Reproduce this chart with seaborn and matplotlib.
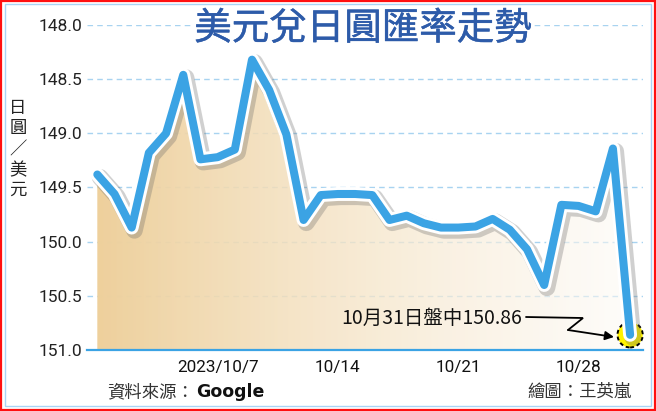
import numpy as np
import pandas as pd
import matplotlib
matplotlib.use("Agg")
import matplotlib.pyplot as plt
import matplotlib.patheffects as pe
from matplotlib.patches import Rectangle
import seaborn as sns

# ---- data ----
dates = pd.date_range("2023-09-30", "2023-10-31", freq="D")
rates = [149.38, 149.56, 149.87, 149.18, 149.00, 148.46, 149.24, 149.22,
         149.15, 148.32, 148.60, 149.01, 149.80, 149.57, 149.56, 149.56,
         149.57, 149.80, 149.76, 149.83, 149.87, 149.87, 149.86, 149.79,
         149.89, 150.07, 150.40, 149.66, 149.67, 149.72, 149.14, 150.86]
tick_dates = ["2023-10-07", "2023-10-14", "2023-10-21", "2023-10-28"]
tick_labels = ["2023/10/7", "10/14", "10/21", "10/28"]
y_ticks = [148.0, 148.5, 149.0, 149.5, 150.0, 150.5, 151.0]

title = "美元兌日圓匯率走勢"
ylabel_chars = ["日", "圓", "／", "美", "元"]
note = "10月31日盤中150.86"
source_cn = "資料來源："
source_en = "Google"
credit = "繪圖：王英嵐"

sns.set_theme(style="white")
plt.rcParams["font.family"] = ["Noto Sans CJK TC", "DejaVu Sans"]

W, H = 656, 411
fig = plt.figure(figsize=(W / 100, H / 100), dpi=100)
fig.patch.set_facecolor("white")

ax = fig.add_axes([87 / W, (H - 350) / H, (643 - 87) / W, 325 / H])
ax.set_facecolor("none")

df = pd.DataFrame({"day": (dates - dates[0]).days, "rate": rates})
xs = df["day"].to_numpy()
ys = df["rate"].to_numpy()

# gridlines
ax.set_axisbelow(True)
ax.yaxis.grid(True, color="#A8D3F0", linestyle=(0, (4, 3)), linewidth=1.0, zorder=0)
ax.xaxis.grid(False)

# gradient area fill
poly = ax.fill_between(xs, ys, 151.0, color="none", lw=0)
path = poly.get_paths()[0]
n = 256
t = np.linspace(0, 1, n)
c0 = np.array([238, 208, 156]) / 255
c1 = np.array([253, 250, 245]) / 255
rgba = np.zeros((1, n, 4))
rgba[0, :, :3] = c0[None, :] * (1 - t[:, None]) + c1[None, :] * t[:, None]
rgba[0, :, 3] = 1.0 - 0.45 * t
im = ax.imshow(rgba, extent=[xs.min(), xs.max(), 151.0, 148.0],
               aspect="auto", zorder=1, interpolation="bilinear")
im.set_clip_path(path, transform=ax.transData)

# highlight circle at last point
ax.scatter([xs[-1]], [ys[-1]], s=330, facecolor="#FFF200", edgecolor="black",
           linewidths=1.4, linestyle=(0, (2, 1.5)), zorder=3, clip_on=False)

# main line
sns.lineplot(data=df, x="day", y="rate", ax=ax, color="#3BA3E4", linewidth=5.8,
             zorder=4, solid_joinstyle="round", solid_capstyle="round",
             clip_on=False,
             path_effects=[pe.Stroke(offset=(2, -2), linewidth=12, foreground="#666666", alpha=0.3),
                           pe.Stroke(linewidth=10, foreground="white"),
                           pe.Normal()])

ax.set_xlim(-0.6, 31.75)
ax.set_ylim(151.0, 148.0)
ax.set_yticks(y_ticks)
ax.set_yticklabels([f"{v:.1f}" for v in y_ticks], fontfamily="Roboto", fontsize=12.5, color="#222222")
tick_x = [(pd.Timestamp(d) - dates[0]).days for d in tick_dates]
ax.set_xticks(tick_x)
ax.set_xticklabels(tick_labels, fontfamily="Roboto", fontsize=12.3, color="#111111")
ax.tick_params(axis="y", length=0, pad=3.5)
ax.tick_params(axis="x", length=4.5, width=1.3, color="#3BA3E4", pad=3, direction="out")
ax.set_xlabel("")
ax.set_ylabel("")
for s in ["top", "right", "left"]:
    ax.spines[s].set_visible(False)
ax.spines["bottom"].set_color("#3BA3E4")
ax.spines["bottom"].set_linewidth(1.6)
ax.spines["bottom"].set_zorder(5)

# overlay axes in pixel coordinates
ov = fig.add_axes([0, 0, 1, 1], zorder=10)
ov.set_xlim(0, W)
ov.set_ylim(H, 0)
ov.axis("off")
ov.patch.set_alpha(0)

# frame
ov.add_patch(Rectangle((1, 1), W - 2.5, H - 2.5, fill=False, edgecolor="#FF1010", lw=1.6))
ov.add_patch(Rectangle((4.5, 4.5), W - 9.5, H - 9.5, fill=False, edgecolor="#A9D4F5", lw=1.0))

# title
ov.text(363, 29, title, ha="center", va="center", fontsize=27, color="#2D5BA9",
        fontweight="normal",
        path_effects=[pe.Stroke(linewidth=0.35, foreground="#2D5BA9"), pe.Normal()],
        bbox=dict(facecolor="white", edgecolor="none", pad=2))

# vertical y label
for ch, yy in zip(ylabel_chars, [108, 128, 149, 170, 190]):
    ov.text(18, yy, ch, ha="center", va="center", fontsize=12.5, color="#222222")

# annotation
ov.text(341, 318, note, ha="left", va="center", fontsize=14, color="#111111")
ov.plot([526, 583, 568], [317, 318, 330], color="black", lw=1.3, solid_joinstyle="miter")
ov.annotate("", xy=(614, 337), xytext=(568, 330),
            arrowprops=dict(arrowstyle="-|>", color="black", lw=1.3, mutation_scale=13,
                            shrinkA=0, shrinkB=0))

# footer
ov.text(107, 392, source_cn, ha="left", va="center", fontsize=12.5, color="#333333")
ov.text(196, 392, source_en, ha="left", va="center", fontsize=12.5, color="#111111",
        fontfamily="DejaVu Sans", fontweight="bold")
ov.text(632, 392, credit, ha="right", va="center", fontsize=12.5, color="#333333")

fig.savefig("out.png", dpi=100)
